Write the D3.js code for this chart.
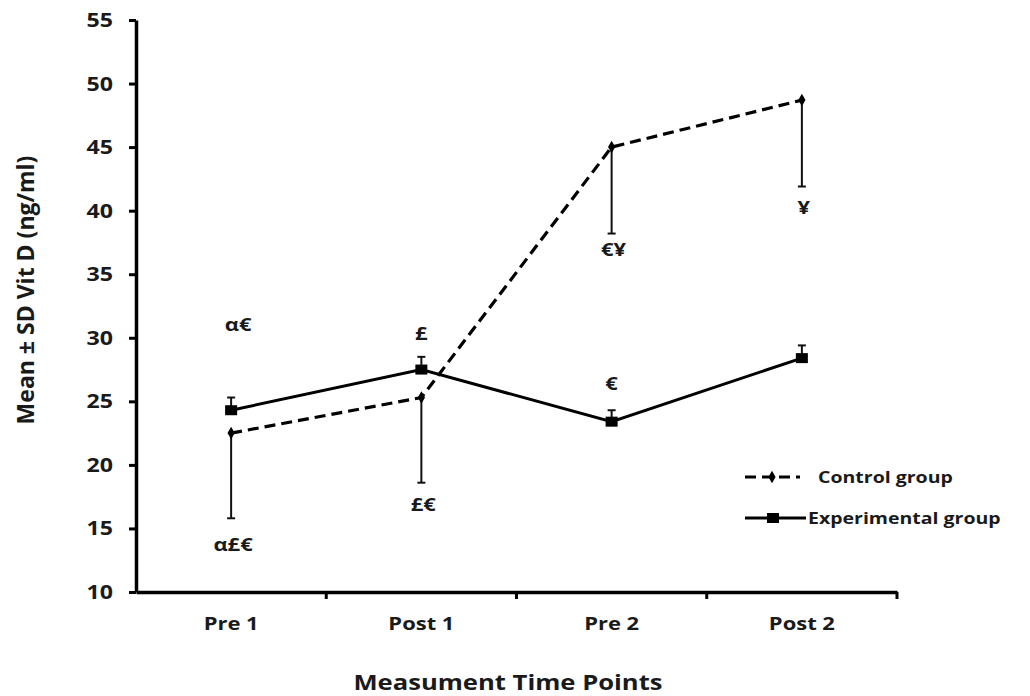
<!DOCTYPE html>
<html>
<head>
<meta charset="utf-8">
<script src="https://cdn.jsdelivr.net/npm/d3@7"></script>
<style>
  body { margin: 0; background: #fff; }
  svg text { font-family: "Open Sans", sans-serif; font-weight: 700; fill: #1a1a1a; }
  .wide { transform: scaleX(1.22); transform-box: fill-box; transform-origin: center; }
  .wideR { transform: scaleX(1.22); transform-box: fill-box; transform-origin: right center; }
  .wideL { transform: scaleX(1.22); transform-box: fill-box; transform-origin: left center; }
</style>
</head>
<body>
<svg width="1030" height="696"></svg>
<script>
const categories = ["Pre 1", "Post 1", "Pre 2", "Post 2"];
const controlMean = [22.5, 25.3, 45.0, 48.7];
const controlSD = [6.7, 6.7, 6.8, 6.8];
const expMean = [24.3, 27.5, 23.4, 28.4];
const expSD = [1.0, 1.0, 0.9, 1.0];
const yTicks = [10, 15, 20, 25, 30, 35, 40, 45, 50, 55];

// significance marks and the level (ng/ml) they sit at
const controlMarks = ["α£€", "£€", "€¥", "¥"];
const controlMarkAt = [13.7, 16.9, 36.9, 40.2];
const expMarks = ["α€", "£", "€", ""];
const expMarkAt = [31.0, 30.3, 26.4, 0];

const svg = d3.select("svg");

const x = d3.scaleBand().domain(categories).range([136, 897]);
const y = d3.scaleLinear().domain([10, 55]).range([592, 20]);
const cx = d => x(d) + x.bandwidth() / 2;

// y axis
const yAxisG = svg.append("g").attr("transform", "translate(136,0)")
  .call(d3.axisLeft(y).tickValues(yTicks).tickSize(7).tickSizeOuter(0).tickPadding(16));
yAxisG.select(".domain").attr("stroke", "#000").attr("stroke-width", 3.5);
yAxisG.selectAll(".tick line").attr("stroke", "#000").attr("stroke-width", 3);
yAxisG.selectAll(".tick text").attr("font-size", 19).attr("class", "wideR").attr("dy", "0.34em");

// x axis, ticks on the band edges
const xAxisG = svg.append("g").attr("transform", "translate(0,592)")
  .call(d3.axisBottom(x).tickSize(0).tickPadding(25));
xAxisG.select(".domain").attr("stroke", "#000").attr("stroke-width", 3.5);
xAxisG.selectAll(".tick text").attr("font-size", 18).attr("class", "wide");
xAxisG.selectAll(".edge").data(categories).enter().append("line")
  .attr("x1", d => x(d) + x.bandwidth()).attr("x2", d => x(d) + x.bandwidth())
  .attr("y1", 0).attr("y2", 7).attr("stroke", "#000").attr("stroke-width", 3);

// axis titles
svg.append("text").attr("transform", "translate(34,290) rotate(-90)")
  .attr("text-anchor", "middle").attr("font-size", 23).text("Mean ± SD Vit D (ng/ml)");
svg.append("text").attr("x", 508).attr("y", 690).attr("class", "wide")
  .attr("text-anchor", "middle").attr("font-size", 21).text("Measument Time Points");

const control = categories.map((c, i) => ({ c, m: controlMean[i], sd: controlSD[i] }));
const exp = categories.map((c, i) => ({ c, m: expMean[i], sd: expSD[i] }));

const line = d3.line().x(d => cx(d.c)).y(d => y(d.m));

// control group: lower error bars
svg.selectAll(".cbar").data(control).enter().append("line")
  .attr("x1", d => cx(d.c)).attr("x2", d => cx(d.c))
  .attr("y1", d => y(d.m)).attr("y2", d => y(d.m - d.sd))
  .attr("stroke", "#111").attr("stroke-width", 2);
svg.selectAll(".ccap").data(control).enter().append("line")
  .attr("x1", d => cx(d.c) - 4).attr("x2", d => cx(d.c) + 4)
  .attr("y1", d => y(d.m - d.sd)).attr("y2", d => y(d.m - d.sd))
  .attr("stroke", "#111").attr("stroke-width", 2);

// experimental group: upper error bars
svg.selectAll(".ebar").data(exp).enter().append("line")
  .attr("x1", d => cx(d.c)).attr("x2", d => cx(d.c))
  .attr("y1", d => y(d.m)).attr("y2", d => y(d.m + d.sd))
  .attr("stroke", "#111").attr("stroke-width", 2);
svg.selectAll(".ecap").data(exp).enter().append("line")
  .attr("x1", d => cx(d.c) - 4).attr("x2", d => cx(d.c) + 4)
  .attr("y1", d => y(d.m + d.sd)).attr("y2", d => y(d.m + d.sd))
  .attr("stroke", "#111").attr("stroke-width", 2);

svg.append("path").attr("d", line(control)).attr("fill", "none")
  .attr("stroke", "#000").attr("stroke-width", 3.2).attr("stroke-dasharray", "11,6");
svg.append("path").attr("d", line(exp)).attr("fill", "none")
  .attr("stroke", "#000").attr("stroke-width", 3);

const diamond = d3.symbol().type(d3.symbolDiamond).size(45);
svg.selectAll(".cpt").data(control).enter().append("path")
  .attr("d", diamond).attr("transform", d => `translate(${cx(d.c)},${y(d.m)})`).attr("fill", "#000");
svg.selectAll(".ept").data(exp).enter().append("rect")
  .attr("x", d => cx(d.c) - 6).attr("y", d => y(d.m) - 5)
  .attr("width", 12).attr("height", 10).attr("fill", "#000");

// marks
svg.selectAll(".cmark").data(controlMarks).enter().append("text")
  .attr("x", (d, i) => cx(categories[i]) + 2).attr("y", (d, i) => y(controlMarkAt[i]))
  .attr("dy", "0.35em").attr("text-anchor", "middle").attr("font-size", 18).attr("class", "wide").text(d => d);
svg.selectAll(".emark").data(expMarks).enter().append("text")
  .attr("x", (d, i) => cx(categories[i]) + (i === 0 ? 7 : 0)).attr("y", (d, i) => y(expMarkAt[i]))
  .attr("dy", "0.35em").attr("text-anchor", "middle").attr("font-size", 18).attr("class", "wide").text(d => d);

// legend
const lg = svg.append("g");
lg.append("line").attr("x1", 745).attr("x2", 800).attr("y1", 477).attr("y2", 477)
  .attr("stroke", "#000").attr("stroke-width", 3).attr("stroke-dasharray", "11,6");
lg.append("path").attr("d", diamond).attr("transform", "translate(772,477)").attr("fill", "#000");
lg.append("text").attr("x", 818).attr("y", 477).attr("dy", "0.35em").attr("font-size", 16)
  .attr("class", "wideL").text("Control group");
lg.append("line").attr("x1", 745).attr("x2", 806).attr("y1", 518).attr("y2", 518)
  .attr("stroke", "#000").attr("stroke-width", 3);
lg.append("rect").attr("x", 767).attr("y", 513).attr("width", 12).attr("height", 10).attr("fill", "#000");
lg.append("text").attr("x", 808).attr("y", 518).attr("dy", "0.35em").attr("font-size", 16)
  .attr("class", "wideL").text("Experimental group");
</script>
</body>
</html>
